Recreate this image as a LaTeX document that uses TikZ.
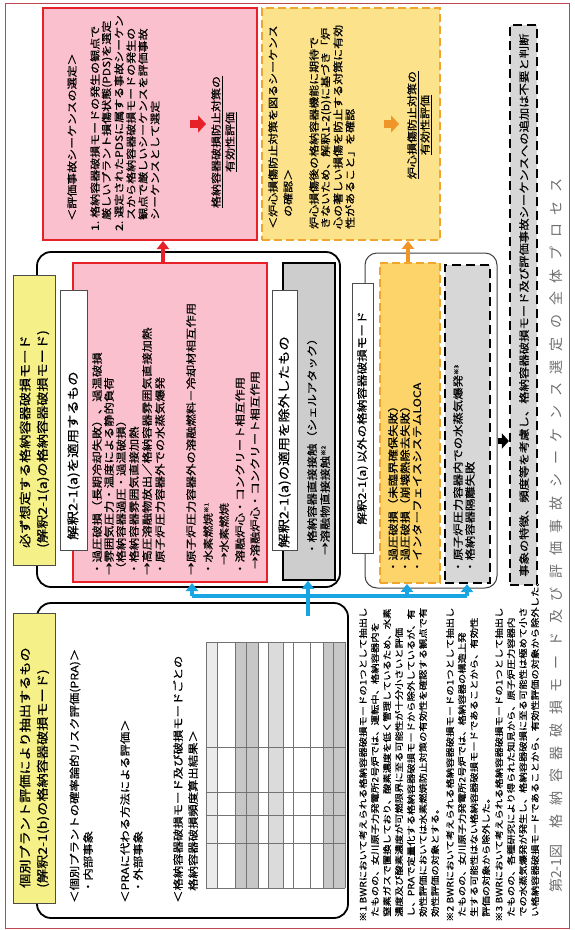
\documentclass[tikz,border=0pt]{standalone}
\usepackage{fontspec}
\setmainfont{Noto Sans CJK JP}[FakeStretch=1.2, FakeBold=0.5]
\newfontfamily\capfont{Noto Sans CJK JP}
\usetikzlibrary{arrows.meta}
\definecolor{pinkfill}{RGB}{250,192,205}
\definecolor{redline}{RGB}{232,32,40}
\definecolor{yelfill}{RGB}{253,226,140}
\definecolor{orfill}{RGB}{252,212,105}
\definecolor{ordash}{RGB}{240,165,45}
\definecolor{tabfill}{RGB}{245,240,135}
\definecolor{grayfill}{RGB}{205,205,205}
\definecolor{gdfill}{RGB}{215,215,215}
\definecolor{bluec}{RGB}{25,165,225}
\definecolor{framered}{RGB}{190,70,80}
\definecolor{capgray}{RGB}{110,110,110}
\definecolor{orarrow}{RGB}{240,150,40}
\tikzset{
  txt/.style={rotate=90, anchor=west, inner sep=0pt, font=\fontsize{10.3}{12}\selectfont},
  toptxt/.style={txt, font=\fontsize{10}{12}\selectfont},
  tabtxt/.style={txt, font=\fontsize{11.8}{14}\selectfont},
  lbltxt/.style={txt, font=\fontsize{12}{14}\selectfont},
  notetxt/.style={txt, font=\fontsize{8.6}{10}\selectfont},
  bx/.style={rectangle, inner sep=0pt},
  frm/.style={bx, draw=black, line width=1.8pt, rounded corners=14pt},
  thinfrm/.style={bx, draw=black!75, line width=1pt, rounded corners=12pt},
  pinkbox/.style={bx, draw=redline, line width=2pt, fill=pinkfill},
  yelbox/.style={bx, draw=ordash, line width=1.8pt, dash pattern=on 8pt off 4pt, fill=yelfill},
  orbox/.style={bx, draw=ordash, line width=1.8pt, dash pattern=on 8pt off 4pt, fill=orfill},
  tabbox/.style={bx, draw=black!70, line width=0.8pt, fill=tabfill},
  lblbox/.style={bx, draw=black!70, line width=0.8pt, fill=white},
  graybox/.style={bx, draw=black, line width=1.5pt, fill=grayfill},
  gdbox/.style={bx, draw=black, line width=2.2pt, dash pattern=on 9pt off 5pt, fill=gdfill},
  bl/.style={draw=bluec, line width=4.5pt},
  blarr/.style={draw=bluec, line width=4.5pt, -{Triangle[width=12pt,length=8pt]}},
  redarr/.style={draw=redline, line width=4pt, -{Triangle[width=12pt,length=8pt]}},
  orarr/.style={draw=orarrow, line width=4pt, -{Triangle[width=12pt,length=8pt]}},
  blkarr/.style={draw=black, line width=6pt, -{Triangle[width=15pt,length=7pt]}},
  grid/.style={draw=black!55, line width=0.4pt}
}
\newcommand{\nsup}[1]{\raisebox{3.5pt}{\fontsize{5.5}{6}\selectfont #1}}
\begin{document}
\begin{tikzpicture}[x=1pt,y=-1pt]
\useasboundingbox (0,0) rectangle (574,930);
\draw[framered, line width=0.8pt] (5,3) rectangle (569,928);

% ---------- top boxes ----------
\node[pinkbox, minimum width=214pt, minimum height=232pt] (topPink) at (150,124) {};
\node[yelbox, minimum width=178pt, minimum height=232pt] (topYel) at (351,124) {};

\node[toptxt] (tp0) at (72,221) {＜評価事故シーケンスの選定＞};
\node[toptxt] (tp1) at (95,231) {1.\hspace{3pt}格納容器破損モードの発生の観点で};
\node[toptxt] (tp2) at (107,220) {厳しいプラント損傷状態(PDS)を選定};
\node[toptxt] (tp3) at (119,231) {2.\hspace{3pt}選定されたPDSに属する事故シーケン};
\node[toptxt] (tp4) at (131,220) {スから格納容器破損モードの発生の};
\node[toptxt] (tp5) at (143,220) {観点で厳しいシーケンスを評価事故};
\node[toptxt] (tp6) at (155,220) {シーケンスとして選定};
\node[toptxt, anchor=center] (tp7) at (217,142) {\underline{格納容器破損防止対策の}};
\node[toptxt, anchor=center] (tp8) at (231,142) {\underline{有効性評価}};
\coordinate (ra1) at (190,124);
\coordinate (ra2) at (206,124);
\draw[draw=redline, line width=8pt, -{Triangle[width=17pt,length=8pt]}] (ra1) -- (ra2);

\node[toptxt] (ty0) at (273,229) {＜炉心損傷防止対策を図るシーケンス};
\node[toptxt] (ty1) at (288,217) {の確認＞};
\node[toptxt] (ty2) at (314,229) {炉心損傷後の格納容器機能に期待で};
\node[toptxt] (ty3) at (326,229) {きないため、解釈1-2(b)に基づき「炉};
\node[toptxt] (ty4) at (338,229) {心の著しい損傷を防止する対策に有効};
\node[toptxt] (ty5) at (350,229) {性があること」を確認};
\node[toptxt, anchor=center] (ty6) at (413,125) {\underline{炉心損傷防止対策の}};
\node[toptxt, anchor=center] (ty7) at (426,125) {\underline{有効性評価}};
\coordinate (oa1) at (384,124);
\coordinate (oa2) at (399,124);
\draw[draw=orarrow, line width=8pt, -{Triangle[width=17pt,length=8pt]}] (oa1) -- (oa2);

% ---------- frames ----------
\node[frm, minimum width=303pt, minimum height=335pt] (frameA) at (188.5,419.5) {};
\node[frm, minimum width=311pt, minimum height=315pt] (frameB) at (192.5,760.5) {};
\node[thinfrm, minimum width=132pt, minimum height=335pt] (frameC) at (431,420.5) {};

% ---------- frame A ----------
\node[tabbox, minimum width=42pt, minimum height=290pt] (tabA) at (34,420) {};
\node[tabtxt] (tabA1) at (25,548) {必ず想定する格納容器破損モード};
\node[tabtxt] (tabA2) at (43,548) {(解釈2-1(a)の格納容器破損モード)};

\node[pinkbox, minimum width=194pt, minimum height=319pt] (pinkA) at (170,422.5) {};
\node[lblbox, minimum width=27pt, minimum height=260pt] (labA) at (73.5,420) {};
\node[lbltxt] (labAt) at (73.5,540) {解釈2-1(a)を適用するもの};

\node[txt] (pa1) at (97,575) {・過圧破損（長期冷却失敗）、過温破損};
\node[txt] (pa2) at (109,575) {→雰囲気圧力・温度による静的負荷};
\node[txt] (pa3) at (121,575) {（格納容器過圧・過温破損）};
\node[txt] (pa4) at (134,575) {・格納容器雰囲気直接加熱};
\node[txt] (pa5) at (147,575) {→高圧溶融物放出／格納容器雰囲気直接加熱};
\node[txt] (pa6) at (160,575) {・原子炉圧力容器外での水蒸気爆発};
\node[txt] (pa7) at (191,575) {→原子炉圧力容器外の溶融燃料－冷却材相互作用};
\node[txt] (pa8) at (208,575) {・水素燃焼\nsup{※1}};
\node[txt] (pa9) at (224,565) {→水素燃焼};
\node[txt] (pa10) at (240,575) {・溶融炉心・コンクリート相互作用};
\node[txt] (pa11) at (255,569) {→溶融炉心・コンクリート相互作用};

\node[graybox, minimum width=52pt, minimum height=317pt] (grayA) at (309,421.5) {};
\node[lblbox, minimum width=25pt, minimum height=260pt] (labG) at (284.5,420) {};
\node[lbltxt] (labGt) at (284.5,548) {解釈2-1(a)の適用を除外したもの};
\node[txt] (ga1) at (312,555) {・格納容器直接接触（シェルアタック）};
\node[txt] (ga2) at (325,555) {→溶融物直接接触\nsup{※2}};

% ---------- frame B ----------
\node[tabbox, minimum width=42pt, minimum height=290pt] (tabB) at (34,758) {};
\node[tabtxt] (tabB1) at (25,888) {個別プラント評価により抽出するもの};
\node[tabtxt] (tabB2) at (43,888) {(解釈2-1(b)の格納容器破損モード)};

\node[txt] (pb1) at (75,903) {＜個別プラントの確率論的リスク評価(PRA)＞};
\node[txt] (pb2) at (88,893) {・内部事象};
\node[txt] (pb3) at (125,903) {＜PRAに代わる方法による評価＞};
\node[txt] (pb4) at (138,893) {・外部事象};
\node[txt] (pb5) at (178,903) {＜格納容器破損モード及び破損モードごとの};
\node[txt] (pb6) at (193,891) {格納容器破損頻度算出結果＞};

% table (unreadable small print shown as a grid)
\fill[black!22] (235,642) rectangle (258,888);
\fill[black!14] (268,642) rectangle (283,888);
\fill[black!22] (323,642) rectangle (345,888);
\fill[black!8] (206,642) rectangle (217,888);
\foreach \gx in {206,217,235,246,258,268,283,293,310,323,333,345}
  \draw[grid] (\gx,642) -- (\gx,888);
\foreach \gy in {642,747,792,815,843,888}
  \draw[grid] (206,\gy) -- (345,\gy);

% ---------- frame C ----------
\node[lblbox, minimum width=21pt, minimum height=270pt] (labC) at (362.5,418) {};
\node[txt, anchor=center, font=\fontsize{10.5}{12}\selectfont] (labCt) at (362.5,418) {解釈2-1(a) 以外の格納容器破損モード};
\node[orbox, minimum width=60pt, minimum height=320pt] (orBox) at (410,423) {};
\node[txt] (oc1) at (393,573) {・過圧破損（未臨界確保失敗）};
\node[txt] (oc2) at (405,573) {・過圧破損（崩壊熱除去失敗）};
\node[txt] (oc3) at (417,573) {・インターフェイスシステムLOCA};
\node[gdbox, minimum width=45pt, minimum height=318pt] (gdBox) at (467.5,424) {};
\node[txt] (gc1) at (458,573) {・原子炉圧力容器内での水蒸気爆発\nsup{※3}};
\node[txt] (gc2) at (470,573) {・格納容器隔離失敗};

% ---------- right box ----------
\node[gdbox, minimum width=27pt, minimum height=560pt] (rightBox) at (523.5,305) {};
\node[txt] (rb1) at (524,577) {事象の特徴、頻度等を考慮し、格納容器破損モード及び評価事故シーケンスへの追加は不要と判断};

% ---------- notes ----------
\node[notetxt] (n1) at (363,922) {※1 BWRにおいて考えられる格納容器破損モードの1つとして抽出し};
\node[notetxt] (n2) at (375,917) {たものの、女川原子力発電所2号炉では、運転中、格納容器内を};
\node[notetxt] (n3) at (387,917) {窒素ガスで置換しており、酸素濃度を低く管理しているため、水素};
\node[notetxt] (n4) at (399,917) {濃度及び酸素濃度が可燃限界に至る可能性が十分小さいと評価};
\node[notetxt] (n5) at (411,917) {し、PRAで定量化する格納容器破損モードから除外しているが、有};
\node[notetxt] (n6) at (423,917) {効性評価においては水素燃焼防止対策の有効性を確認する観点で有};
\node[notetxt] (n7) at (435,917) {効性評価の対象とする。};
\node[notetxt] (n8) at (450,922) {※2 BWRにおいて考えられる格納容器破損モードの1つとして抽出し};
\node[notetxt] (n9) at (462,917) {たものの、女川原子力発電所2号炉では、格納容器の構造上発};
\node[notetxt] (n10) at (474,917) {生する可能性はない格納容器破損モードであることから、有効性};
\node[notetxt] (n11) at (486,917) {評価の対象から除外した。};
\node[notetxt] (n12) at (499,922) {※3 BWRにおいて考えられる格納容器破損モードの1つとして抽出し};
\node[notetxt] (n13) at (511,917) {たものの、各種研究により得られた知見から、原子炉圧力容器内};
\node[notetxt] (n14) at (523,917) {での水蒸気爆発が発生し、格納容器破損に至る可能性は極めて小さ};
\node[notetxt] (n15) at (535,917) {い格納容器破損モードであることから、有効性評価の対象から除外した。};

% ---------- caption ----------
\node[rotate=90, anchor=west, inner sep=0pt, text=capgray, font=\capfont\fontsize{14}{14}\selectfont] (cap) at (556,893)
  {第2-1図\hspace{16pt}\makebox[650pt][s]{格 納 容 器 破 損 モ ー ド 及 び 評 価 事 故 シ ー ケ ン ス 選 定 の 全 体 プ ロ セ ス}};

% ---------- connectors ----------
\draw[redarr] (pinkA.north -| 163,0) -- (topPink.south -| 163,0);
\draw[orarr] (orBox.north -| 408,0) -- (topYel.south -| 408,0);

\coordinate (jL) at (192,596);
\coordinate (jM) at (308,596);
\coordinate (jO) at (407,596);
\coordinate (jR) at (467,596);
\coordinate (bs) at (308,616);
\draw[bl] (jL) -- (jR);
\draw[bl] (bs) -- (jM);
\draw[blarr] (jL) -- (jL |- pinkA.south);
\draw[blarr] (jM) -- (jM |- grayA.south);
\draw[blarr] (jO) -- (jO |- orBox.south);
\draw[blarr] (jR) -- (jR |- gdBox.south);

\draw[blkarr] (frameC.east |- 0,441) -- (rightBox.west |- 0,441);
\end{tikzpicture}
\end{document}
